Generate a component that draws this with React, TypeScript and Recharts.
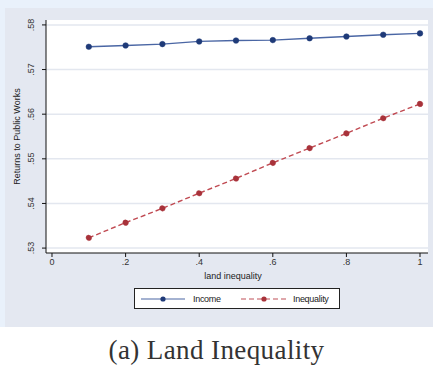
import { LineChart, Line, XAxis, YAxis, CartesianGrid, Legend } from "recharts";

// land inequality share on the x axis
const INEQ_LEVELS = [0.1, 0.2, 0.3, 0.4, 0.5, 0.6, 0.7, 0.8, 0.9, 1.0];
const INCOME_RETURNS = [0.5751, 0.5754, 0.5757, 0.5763, 0.5765, 0.5766, 0.577, 0.5774, 0.5778, 0.5781];
const INEQUALITY_RETURNS = [0.5323, 0.5357, 0.5389, 0.5423, 0.5456, 0.5491, 0.5524, 0.5557, 0.5591, 0.5623];
const X_TICKS = [0, 0.2, 0.4, 0.6, 0.8, 1];
const Y_TICKS = [0.53, 0.54, 0.55, 0.56, 0.57, 0.58];

const data = INEQ_LEVELS.map((x, i) => ({
  x,
  income: INCOME_RETURNS[i],
  inequality: INEQUALITY_RETURNS[i],
}));

const NARROW = "'Liberation Sans Narrow', 'Arial Narrow', 'Liberation Sans', sans-serif";
const NAVY = "#1f3a78";
const RED = "#a8323a";

const fmtX = (v: number) => (v === 0 ? "0" : v === 1 ? "1" : String(v).replace(/^0/, ""));
const fmtY = (v: number) => "." + Math.round(v * 100);

function YTick({ x, y, payload }: any) {
  return (
    <text
      x={x - 6}
      y={y}
      transform={`rotate(-90, ${x - 6}, ${y})`}
      textAnchor="middle"
      fontSize={9}
      fontFamily={NARROW}
      fill="#333"
    >
      {fmtY(payload.value)}
    </text>
  );
}

function LegendBox() {
  return (
    <div
      style={{
        width: 206,
        height: 21,
        border: "1.5px solid #222",
        background: "#fff",
        display: "flex",
        alignItems: "center",
        fontFamily: NARROW,
        fontSize: 9,
        letterSpacing: -0.3,
        color: "#222",
        boxSizing: "border-box",
      }}
    >
      <svg width={44} height={10} style={{ marginLeft: 6 }}>
        <line x1={0} y1={5} x2={44} y2={5} stroke="#4a66a4" strokeWidth={1.2} />
        <circle cx={22} cy={5} r={2.6} fill={NAVY} />
      </svg>
      <span style={{ marginLeft: 8, width: 44 }}>Income</span>
      <svg width={46} height={10} style={{ marginLeft: 4 }}>
        <line x1={0} y1={5} x2={46} y2={5} stroke="#c05058" strokeWidth={1.2} strokeDasharray="5 3" />
        <circle cx={23} cy={5} r={2.6} fill={RED} />
      </svg>
      <span style={{ marginLeft: 6 }}>Inequality</span>
    </div>
  );
}

export default function App() {
  return (
    <div style={{ position: "absolute", left: 0, top: 0, width: 433, height: 370, background: "#fff", overflow: "hidden" }}>
      <div style={{ position: "absolute", left: 0, top: 0, width: 433, height: 327, background: "#e9f1fb" }} />
      <div style={{ position: "absolute", left: 5, top: 8, width: 428, height: 319, background: "#e4e8f1" }} />
      <div style={{ position: "absolute", left: 0, top: 0 }}>
        <LineChart width={433} height={370} data={data} margin={{ top: 20, right: 5, bottom: 77, left: 10 }}>
          <CartesianGrid vertical={false} horizontalValues={Y_TICKS} stroke="#e3e7ef" strokeWidth={1.5} fill="#fff" />
          <XAxis
            dataKey="x"
            type="number"
            domain={[-0.0163, 1.0217]}
            ticks={X_TICKS}
            allowDataOverflow
            tickFormatter={fmtX}
            height={40}
            stroke="#111"
            tickLine={{ stroke: "#111" }}
            tickSize={4}
            tick={{ fontSize: 9, fontFamily: NARROW, fill: "#333" }}
            label={{ value: "land inequality", position: "insideTop", offset: 20, fontSize: 9, fontFamily: NARROW, fill: "#222", dx: -4 }}
          />
          <YAxis
            type="number"
            domain={[0.5289, 0.5811]}
            ticks={Y_TICKS}
            allowDataOverflow
            width={36}
            stroke="#111"
            tickSize={4}
            tick={<YTick />}
            label={{ value: "Returns to Public Works", angle: -90, position: "insideLeft", offset: 7, dy: 0, fontSize: 9, fontFamily: NARROW, fill: "#222", style: { textAnchor: "middle" } }}
          />
          <Legend
            layout="horizontal"
            verticalAlign="middle"
            align="center"
            wrapperStyle={{ left: 134, top: 288, width: 206 }}
            content={() => <LegendBox />}
          />
          <Line
            dataKey="income"
            stroke="#4a66a4"
            strokeWidth={1.4}
            dot={{ r: 2.8, fill: NAVY, stroke: NAVY, strokeWidth: 0.5 }}
            isAnimationActive={false}
          />
          <Line
            dataKey="inequality"
            stroke="#c04a52"
            strokeWidth={1.4}
            strokeDasharray="5 3"
            dot={{ r: 2.8, fill: RED, stroke: RED, strokeWidth: 0.5 }}
            isAnimationActive={false}
          />
        </LineChart>
      </div>
      <div
        style={{
          position: "absolute",
          left: 0,
          width: 433,
          top: 335,
          textAlign: "center",
          fontFamily: "'Liberation Serif', 'DejaVu Serif', serif",
          fontSize: 27,
          letterSpacing: 0.4,
          color: "#333",
        }}
      >
        (a) Land Inequality
      </div>
    </div>
  );
}
